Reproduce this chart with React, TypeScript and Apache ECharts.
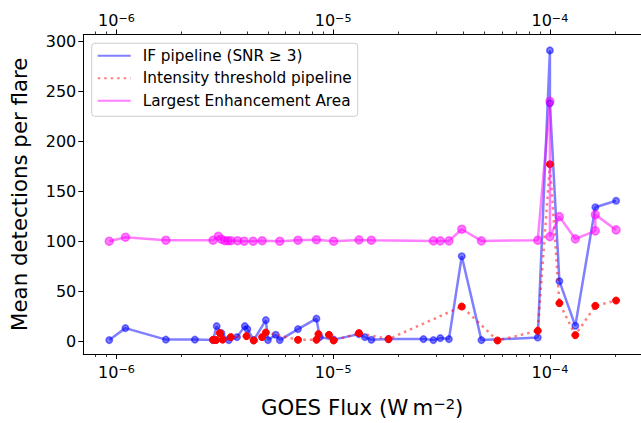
import React, { useEffect, useRef } from 'react';
import * as echarts from 'echarts';

// IF pipeline (SNR >= 3)
const ifFlux = [9.26e-7, 1.1e-6, 1.69e-6, 2.3e-6, 2.79e-6, 2.9e-6, 3.05e-6, 3.3e-6, 3.6e-6, 3.91e-6, 4.02e-6, 4.3e-6, 4.89e-6, 5.0e-6, 5.43e-6, 5.67e-6, 6.88e-6, 8.37e-6, 8.67e-6, 1.005e-5, 1.315e-5, 1.4e-5, 1.5e-5, 1.8e-5, 2.61e-5, 2.9e-5, 3.12e-5, 3.42e-5, 3.92e-5, 4.83e-5, 8.79e-5, 1.0e-4, 1.0e-4, 1.106e-4, 1.31e-4, 1.62e-4, 2.02e-4];
const ifValues = [1, 13, 1.5, 1.5, 1, 15, 8, 1, 4, 15, 12, 1, 21, 1, 6.3, 1, 12, 22.5, 4, 1.5, 7, 4, 1.3, 2, 2, 1, 3, 2, 85, 1, 3.6, 291, 238, 60, 15.3, 134, 140.5];

// Intensity threshold pipeline
const itFlux = [2.79e-6, 2.88e-6, 3.0e-6, 3.09e-6, 3.37e-6, 3.98e-6, 4.3e-6, 4.7e-6, 4.89e-6, 6.88e-6, 8.37e-6, 8.55e-6, 9.56e-6, 1.005e-5, 1.315e-5, 1.8e-5, 3.92e-5, 5.73e-5, 8.79e-5, 1.0e-4, 1.106e-4, 1.31e-4, 1.62e-4, 2.02e-4];
const itValues = [1.3, 1, 8, 1.5, 4, 5, 0.6, 4, 8.6, 1.3, 1.3, 7, 6.3, 0.6, 8, 2, 34.6, 0.6, 10.3, 177, 38, 6, 35.3, 40.6];

// Largest Enhancement Area
const leaFlux = [9.26e-7, 1.1e-6, 1.69e-6, 2.79e-6, 2.95e-6, 3.05e-6, 3.16e-6, 3.27e-6, 3.37e-6, 3.62e-6, 3.88e-6, 4.27e-6, 4.7e-6, 5.67e-6, 6.88e-6, 8.37e-6, 1.005e-5, 1.315e-5, 1.5e-5, 2.9e-5, 3.12e-5, 3.42e-5, 3.92e-5, 4.83e-5, 8.79e-5, 1.0e-4, 1.0e-4, 1.106e-4, 1.31e-4, 1.62e-4, 1.62e-4, 2.02e-4];
const leaValues = [100, 104, 101, 101, 105, 102, 100.5, 100.5, 100.5, 100.5, 100, 100, 100.5, 100, 101, 101.5, 100, 101.3, 101, 100.3, 100.3, 100.3, 112, 100.3, 101, 240, 104.6, 124.6, 102.3, 110.3, 126.6, 111.3];

const seriesNames = ['IF pipeline (SNR \u2265 3)', 'Intensity threshold pipeline', 'Largest Enhancement Area'];
const xMajorTicks = [-6, -5, -4];
const yTicks = [0, 50, 100, 150, 200, 250, 300];

const X_MIN = -6.153;
const X_MAX = -3.5797;
const Y_MIN = -12.9;
const Y_MAX = 306.9;

const FONT = 'DejaVu Sans';
const TICK_FS = 16;
const TITLE_FS = 21.3;

const minorTicks: number[] = [];
for (let n = -7; n <= -4; n++) {
  for (let k = 2; k <= 9; k++) {
    const v = n + Math.log10(k);
    if (v > X_MIN && v < X_MAX) minorTicks.push(v);
  }
}

const toPairs = (xs: number[], ys: number[]) => xs.map((x, i) => [Math.log10(x), ys[i]]);

const logLabel = (v: number) => `{b|10}{s|\u2212${Math.abs(Math.round(v))}}`;
const labelRich = {
  b: { fontSize: TICK_FS, fontFamily: FONT, color: '#000', lineHeight: 16, padding: [7, 0, 0, 0], verticalAlign: 'bottom' },
  s: { fontSize: 11.2, fontFamily: FONT, color: '#000', lineHeight: 12, verticalAlign: 'top' },
};

const axisLineStyle = { color: '#000', width: 1 };

function makeX(position: 'top' | 'bottom', major: boolean, extra: any = {}) {
  return {
    type: 'value',
    position,
    min: X_MIN,
    max: X_MAX,
    axisLine: { show: major, onZero: false, lineStyle: axisLineStyle },
    axisTick: {
      show: true,
      inside: false,
      length: major ? 5 : 3,
      lineStyle: { color: '#000', width: major ? 1 : 0.8 },
      customValues: major ? xMajorTicks : minorTicks,
    },
    axisLabel: major
      ? {
          show: true,
          customValues: xMajorTicks,
          formatter: logLabel,
          rich: labelRich,
          margin: position === 'bottom' ? 10 : 6,
          color: '#000',
        }
      : { show: false },
    splitLine: { show: false },
    ...extra,
  };
}

export default function App() {
  const ref = useRef<HTMLDivElement>(null);
  useEffect(() => {
    document.body.style.margin = '0';
    if (!ref.current) return;
    const chart = echarts.init(ref.current, undefined, { renderer: 'svg' });
    chart.setOption({
      animation: false,
      backgroundColor: '#fff',
      grid: { left: 83.3, top: 34.5, width: 558.4, height: 319.8, containLabel: false },
      legend: {
        orient: 'vertical',
        left: 91.7,
        top: 43.3,
        padding: [5, 6, 8, 5],
        itemWidth: 33,
        itemHeight: 16,
        itemGap: 7.5,
        selectedMode: false,
        backgroundColor: 'rgba(255,255,255,0.8)',
        borderColor: '#cccccc',
        borderWidth: 1,
        borderRadius: 3,
        textStyle: { fontSize: 15.3, fontFamily: FONT, color: '#000', padding: [0, 0, 0, 7] },
        itemStyle: { opacity: 0 },
        data: seriesNames,
      },
      xAxis: [
        makeX('bottom', true, {
          name: '{t|GOES Flux (W\u2009m}{s|\u22122}{t|)}',
          nameLocation: 'middle',
          nameGap: 42,
          nameTextStyle: {
            rich: {
              t: { fontSize: TITLE_FS, fontFamily: FONT, color: '#000', lineHeight: 22, padding: [7, 0, 0, 0], verticalAlign: 'bottom' },
              s: { fontSize: 14.8, fontFamily: FONT, color: '#000', lineHeight: 15, verticalAlign: 'top' },
            },
          },
        }),
        makeX('bottom', false),
        makeX('top', true),
        makeX('top', false),
      ],
      yAxis: {
        type: 'value',
        min: Y_MIN,
        max: Y_MAX,
        axisLine: { show: true, onZero: false, lineStyle: axisLineStyle },
        axisTick: { show: true, length: 5, customValues: yTicks, lineStyle: { color: '#000' } },
        axisLabel: { customValues: yTicks, fontSize: TICK_FS, fontFamily: FONT, color: '#000', margin: 7 },
        splitLine: { show: false },
        name: 'Mean detections per flare',
        nameLocation: 'middle',
        nameRotate: 90,
        nameGap: 53,
        nameTextStyle: { fontSize: TITLE_FS, fontFamily: FONT, color: '#000' },
      },
      series: [
        {
          name: seriesNames[0],
          type: 'line',
          xAxisIndex: 0,
          data: toPairs(ifFlux, ifValues),
          symbol: 'circle',
          symbolSize: 6.5,
          lineStyle: { color: 'rgba(0,0,255,0.5)', width: 2.5 },
          itemStyle: { color: 'rgba(0,0,255,0.5)', borderColor: 'rgba(0,0,255,0.5)', borderWidth: 1.5 },
          emphasis: { disabled: true },
          z: 2,
        },
        {
          name: seriesNames[1],
          type: 'line',
          xAxisIndex: 0,
          data: toPairs(itFlux, itValues),
          symbol: 'circle',
          symbolSize: 7,
          lineStyle: { color: 'rgba(255,0,0,0.5)', width: 2.5, type: [2.5, 4] },
          itemStyle: { color: '#ff0000', borderColor: '#ff0000', borderWidth: 1 },
          emphasis: { disabled: true },
          z: 3,
        },
        {
          name: seriesNames[2],
          type: 'line',
          xAxisIndex: 0,
          data: toPairs(leaFlux, leaValues),
          symbol: 'circle',
          symbolSize: 8,
          lineStyle: { color: 'rgba(255,0,255,0.5)', width: 2.5 },
          itemStyle: { color: 'rgba(255,0,255,0.5)', borderColor: 'rgba(255,0,255,0.5)', borderWidth: 1.5 },
          emphasis: { disabled: true },
          z: 4,
        },
      ],
    });
    return () => chart.dispose();
  }, []);
  return <div ref={ref} style={{ width: 641, height: 423 }} />;
}
